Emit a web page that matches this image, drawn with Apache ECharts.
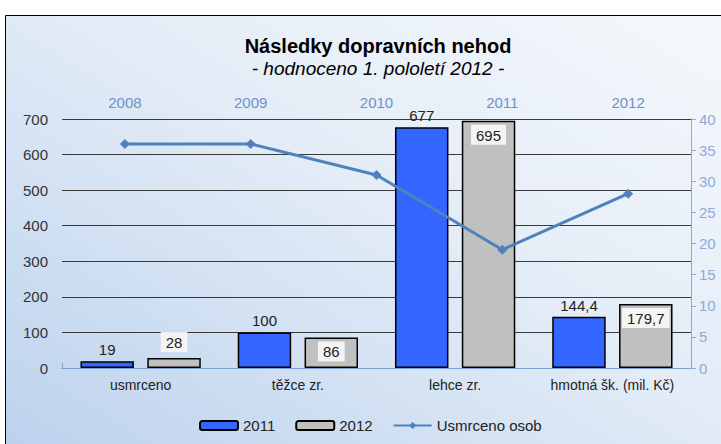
<!DOCTYPE html>
<html>
<head>
<meta charset="utf-8">
<script src="https://cdn.jsdelivr.net/npm/echarts@6/dist/echarts.min.js"></script>
<style>
  html, body { margin: 0; padding: 0; background: #fff; }
  #chart { width: 721px; height: 444px; }
</style>
</head>
<body>
<div id="chart"></div>
<script>
// data
const categories = ['usmrceno', 'těžce zr.', 'lehce zr.', 'hmotná šk. (mil. Kč)']
const values2011 = [19, 100, 677, 144.4]
const values2012 = [28, 86, 695, 179.7]
const years = ['2008', '2009', '2010', '2011', '2012']
const deaths = [36, 36, 31, 19, 28]

const chart = echarts.init(document.getElementById('chart'), null, { renderer: 'svg' })

const fmt = (p) => String(p.value).replace('.', ',')
const font = 'Liberation Sans, Arial, sans-serif'

// short bars get their label above the bar, like in Excel
const data2012 = values2012.map((v) =>
  v < 50 ? { value: v, label: { position: 'top', distance: 6 } } : v,
)

const option = {
  backgroundColor: '#fff',
  textStyle: { fontFamily: font },
  graphic: [
    {
      type: 'rect',
      z: -10,
      silent: true,
      shape: { x: 5.5, y: 15.5, width: 760, height: 470 },
      style: {
        fill: {
          type: 'linear', x: 0, y: 1, x2: 1, y2: 0,
          colorStops: [
            { offset: 0, color: '#b9d0ec' },
            { offset: 0.55, color: '#e3ecf7' },
            { offset: 1, color: '#f7f9fc' },
          ],
        },
        stroke: '#000',
        lineWidth: 1,
      },
    },
  ],
  title: {
    text: 'Následky dopravních nehod',
    subtext: '- hodnoceno 1. pololetí 2012 -',
    left: 373,
    top: 31,
    textAlign: 'center',
    itemGap: 3,
    textStyle: { fontFamily: font, fontSize: 20, fontWeight: 'bold', color: '#000' },
    subtextStyle: { fontFamily: font, fontSize: 19, fontStyle: 'italic', color: '#000' },
  },
  legend: {
    left: 194,
    top: 413,
    itemWidth: 38,
    itemHeight: 9,
    itemGap: 20,
    textStyle: { fontFamily: font, fontSize: 15, color: '#222' },
    data: ['2011', '2012', 'Usmrceno osob'],
  },
  grid: { left: 62, right: 30, top: 119, bottom: 76, containLabel: false },
  xAxis: [
    {
      type: 'category',
      data: categories,
      position: 'bottom',
      axisLine: { lineStyle: { color: '#404040', width: 1 } },
      axisTick: { show: false },
      axisLabel: { color: '#222', fontSize: 14, margin: 10, interval: 0 },
    },
    {
      type: 'category',
      data: years,
      position: 'top',
      axisLine: { lineStyle: { color: '#7d9fd3', width: 1 } },
      axisTick: { show: true, length: 5, lineStyle: { color: '#7d9fd3' } },
      axisLabel: { color: '#6f92c6', fontSize: 15, margin: 9, interval: 0 },
    },
  ],
  yAxis: [
    {
      type: 'value',
      min: 0,
      max: 700,
      interval: 100,
      axisLine: { show: false },
      axisTick: { show: false },
      axisLabel: { color: '#333', fontSize: 15, margin: 14 },
      splitLine: { lineStyle: { color: '#3a3a3a', width: 1 } },
    },
    {
      type: 'value',
      min: 0,
      max: 40,
      interval: 5,
      position: 'right',
      axisLine: { show: true, lineStyle: { color: '#8eaad6', width: 1 } },
      axisTick: { show: true, length: 5, lineStyle: { color: '#8eaad6' } },
      axisLabel: { color: '#8eaad6', fontSize: 15, margin: 8 },
      splitLine: { show: false },
    },
  ],
  series: [
    {
      name: '2011',
      type: 'bar',
      xAxisIndex: 0,
      yAxisIndex: 0,
      data: values2011,
      barWidth: '34%',
      barGap: '25%',
      itemStyle: { color: '#3366ff', borderColor: '#000', borderWidth: 1.5 },
      label: {
        show: true,
        position: 'top',
        distance: 4,
        color: '#222',
        fontSize: 15,
        formatter: fmt,
      },
    },
    {
      name: '2012',
      type: 'bar',
      xAxisIndex: 0,
      yAxisIndex: 0,
      data: data2012,
      barWidth: '34%',
      itemStyle: { color: '#c0c0c0', borderColor: '#000', borderWidth: 1.5 },
      label: {
        show: true,
        position: 'insideTop',
        distance: 4,
        color: '#222',
        fontSize: 15,
        backgroundColor: '#f4f4f4',
        padding: [3, 5, 2, 5],
        formatter: fmt,
      },
    },
    {
      name: 'Usmrceno osob',
      type: 'line',
      xAxisIndex: 1,
      yAxisIndex: 1,
      data: deaths,
      z: 5,
      symbol: 'diamond',
      symbolSize: 10,
      lineStyle: { color: '#4f81bd', width: 3 },
      itemStyle: { color: '#4f81bd' },
    },
  ],
}

chart.setOption(option)
</script>
</body>
</html>
